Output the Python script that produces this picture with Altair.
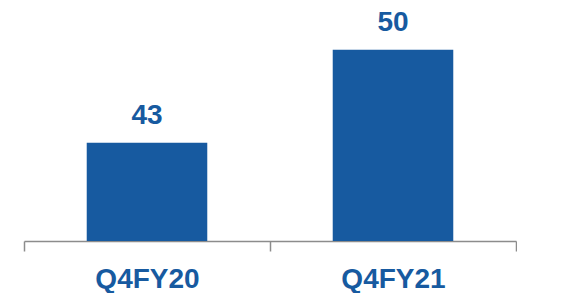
import altair as alt
import pandas as pd

categories = ["Q4FY20", "Q4FY21"]
values = [43, 50]
base_value = 35.6
top_value = 53.06

df = pd.DataFrame({"period": categories, "value": values})

BLUE = "#175AA0"
H = 232
W = 492

x = alt.X(
    "period:N",
    sort=categories,
    title=None,
    scale=alt.Scale(paddingInner=0, paddingOuter=0),
    axis=alt.Axis(
        labelAngle=0,
        labelFont="Liberation Sans",
        labelFontWeight="bold",
        labelFontSize=28,
        labelColor=BLUE,
        labelPadding=14,
        domainColor="#8c8c8c",
        domainWidth=1.5,
        tickColor="#8c8c8c",
        tickWidth=1.5,
        tickSize=10,
        tickBand="extent",
    ),
)
y = alt.Y(
    "value:Q",
    scale=alt.Scale(domain=[base_value, top_value], zero=False),
    axis=None,
)

bars = alt.Chart(df).mark_bar(color=BLUE, width=alt.RelativeBandSize(0.49)).encode(
    x=x, y=y, y2=alt.datum(base_value)
)
labels = alt.Chart(df).mark_text(
    font="Liberation Sans",
    fontWeight="bold",
    fontSize=28,
    color=BLUE,
    baseline="alphabetic",
    dy=-19,
).encode(x=x, y=y, text="value:Q")

chart = (
    alt.layer(bars, labels)
    .properties(
        width=W,
        height=H,
        background="white",
        padding={"left": 15, "top": 0, "right": 0, "bottom": 0},
    )
    .configure_view(stroke="transparent", strokeWidth=0)
)

chart.save("out.html", embed_options={"renderer": "svg", "actions": False})
